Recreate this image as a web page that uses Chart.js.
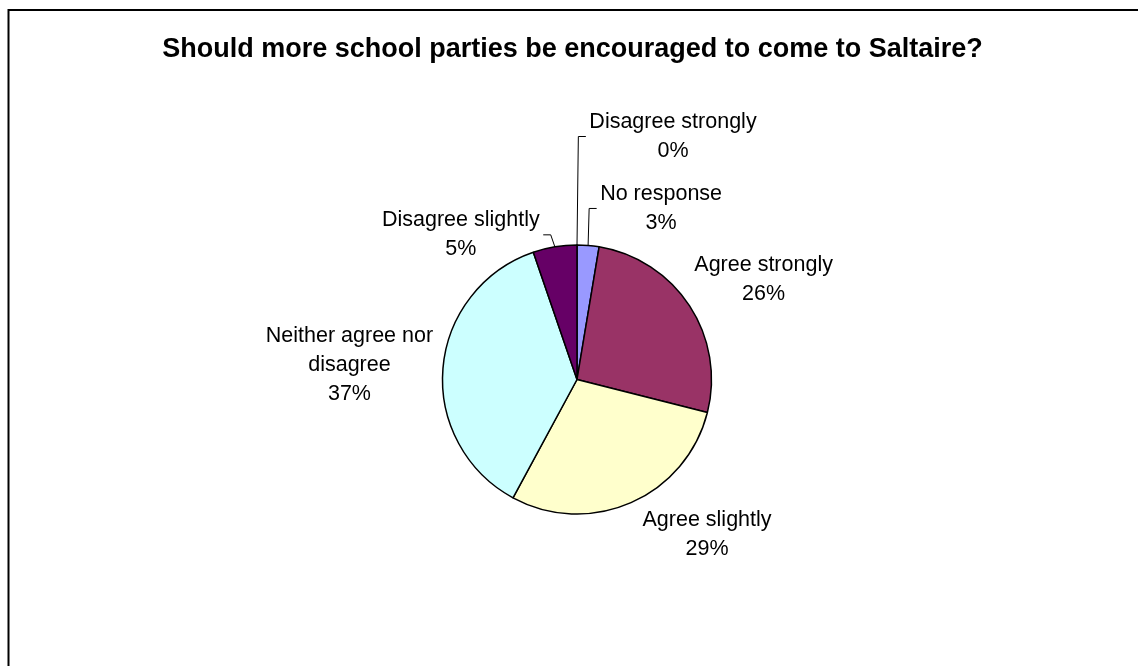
<!DOCTYPE html>
<html>
<head>
<meta charset="utf-8">
<script src="https://cdn.jsdelivr.net/npm/chart.js@4.4.0/dist/chart.umd.min.js"></script>
<style>
  html, body { margin: 0; padding: 0; background: #fff; }
</style>
</head>
<body>
<canvas id="pieChart" width="1138" height="666"></canvas>
<script>
// survey data (counts of responses)
const categories = ['No response', 'Agree strongly', 'Agree slightly', 'Neither agree nor disagree', 'Disagree slightly', 'Disagree strongly'];
const responses = [1, 10, 11, 14, 2, 0];
const sliceColors = ['#9999FF', '#993366', '#FFFFCC', '#CCFFFF', '#660066', '#FFFFFF'];
const chartTitle = 'Should more school parties be encouraged to come to Saltaire?';

// label placement relative to the slice's outer edge midpoint
const labelOffsets = [[73, -37], [74, -26.5], [76, 32], [-93.5, -3.5], [-94, -12], [96, -108.5]];
const hasLeader = [true, false, false, false, true, true];

const FONT = '"Liberation Sans", Arial, sans-serif';

const wrapText = (ctx, text, maxW) => {
    const words = text.split(' ');
    const lines = [];
    let cur = '';
    words.forEach(w => {
        const test = cur ? cur + ' ' + w : w;
        if (ctx.measureText(test).width > maxW && cur) {
            lines.push(cur);
            cur = w;
        } else {
            cur = test;
        }
    });
    lines.push(cur);
    return lines;
};

const excelLabels = {
    id: 'excelLabels',
    afterDraw(chart) {
        const ctx = chart.ctx;
        const meta = chart.getDatasetMeta(0);
        const total = responses.reduce((a, b) => a + b, 0);
        ctx.save();

        // frame
        ctx.strokeStyle = '#000';
        ctx.lineWidth = 2;
        ctx.strokeRect(8.5, 10, 2000, 2000);

        // title
        ctx.fillStyle = '#000';
        ctx.font = 'bold 27px ' + FONT;
        ctx.textAlign = 'center';
        ctx.textBaseline = 'middle';
        ctx.fillText(chartTitle, 572.5, 50);

        ctx.font = '21.5px ' + FONT;
        const lineH = 29;
        meta.data.forEach((arc, i) => {
            const p = arc.getProps(['x', 'y', 'startAngle', 'endAngle', 'outerRadius'], true);
            const mid = (p.startAngle + p.endAngle) / 2;
            const ex = p.x + Math.cos(mid) * p.outerRadius;
            const ey = p.y + Math.sin(mid) * p.outerRadius;
            const cx = ex + labelOffsets[i][0];
            const cy = ey + labelOffsets[i][1];

            const pct = Math.round(responses[i] / total * 100) + '%';
            const lines = wrapText(ctx, categories[i], 180).concat([pct]);
            const maxW = Math.max(...lines.map(l => ctx.measureText(l).width));
            const top = cy - (lines.length - 1) * lineH / 2;
            lines.forEach((l, k) => ctx.fillText(l, cx, top + k * lineH));

            if (hasLeader[i]) {
                const dir = cx > ex ? 1 : -1;
                const side = cx - dir * maxW / 2;
                ctx.lineWidth = 1;
                ctx.beginPath();
                ctx.moveTo(ex, ey);
                ctx.lineTo(side - dir * 11, cy);
                ctx.lineTo(side - dir * 3.5, cy);
                ctx.stroke();
            }
        });
        ctx.restore();
    }
};

new Chart(document.getElementById('pieChart'), {
    type: 'pie',
    data: {
        labels: categories,
        datasets: [{
            data: responses,
            backgroundColor: sliceColors,
            borderColor: '#000',
            borderWidth: 1.5
        }]
    },
    options: {
        responsive: false,
        animation: false,
        radius: 134.5,
        layout: { padding: { left: 427, right: 411, top: 229.5, bottom: 136.5 } },
        plugins: {
            legend: { display: false },
            title: { display: false },
            tooltip: { enabled: false }
        }
    },
    plugins: [excelLabels]
});
</script>
</body>
</html>
